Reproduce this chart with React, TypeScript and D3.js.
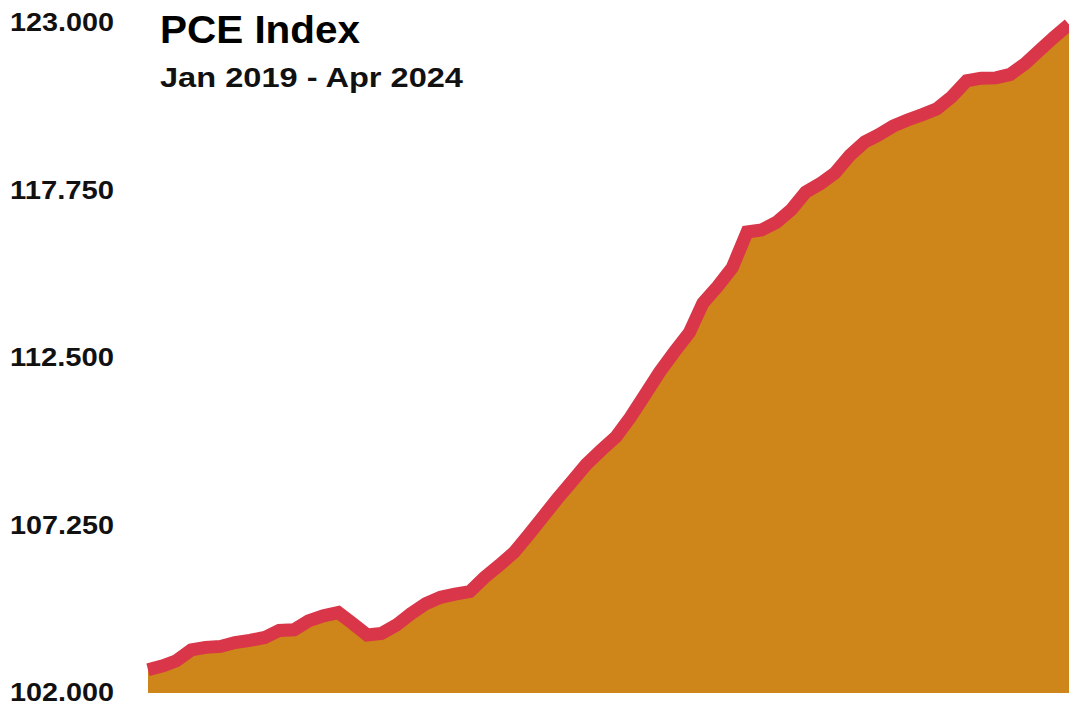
import React from "react";
import * as d3 from "d3";

const startMonth = "2019-01";
const pceValues: number[] = [
  102.73, 102.85, 103.01, 103.35, 103.43, 103.46, 103.58, 103.65, 103.74, 103.96,
  103.98, 104.26, 104.42, 104.52, 104.19, 103.82, 103.87, 104.13, 104.48, 104.80,
  105.0, 105.1, 105.18, 105.62, 106.0, 106.41, 106.92, 107.5, 108.07, 108.62,
  109.16, 109.61, 110.03, 110.64, 111.36, 112.06, 112.7, 113.3, 114.22, 114.75,
  115.33, 116.45, 116.51, 116.75, 117.15, 117.7, 117.97, 118.3, 118.85, 119.27,
  119.49, 119.77, 119.96, 120.13, 120.31, 120.69, 121.19, 121.27, 121.28, 121.39,
  121.73, 122.16, 122.56, 122.95,
];
const yTicks: number[] = [102, 107.25, 112.5, 117.75, 123];
const titleText = "PCE Index";
const subtitleText = "Jan 2019 - Apr 2024";

const W = 1069;
const H = 706;

export default function App() {
  const parse = d3.timeParse("%Y-%m");
  const start = parse(startMonth) as Date;
  const data = pceValues.map((v, i) => ({ date: d3.timeMonth.offset(start, i), value: v }));

  const x = d3
    .scaleTime()
    .domain(d3.extent(data, (d) => d.date) as [Date, Date])
    .range([148, 1069]);
  const y = d3.scaleLinear().domain([102, 123]).range([693, 23]);

  const area = d3
    .area<{ date: Date; value: number }>()
    .x((d) => x(d.date))
    .y0(y(102))
    .y1((d) => y(d.value));
  const line = d3
    .line<{ date: Date; value: number }>()
    .x((d) => x(d.date))
    .y((d) => y(d.value));

  const fmt = d3.format(".3f");
  const font = "'Liberation Sans', Arial, Helvetica, sans-serif";

  return (
    <div style={{ position: "fixed", left: 0, top: 0, width: W, height: H, background: "#fff" }}>
      <svg width={W} height={H} style={{ display: "block" }}>
        <path d={area(data) || ""} fill="#CE8519" />
        <path
          d={line(data) || ""}
          fill="none"
          stroke="#D93649"
          strokeWidth={13}
          strokeLinejoin="miter"
        />
        {yTicks.map((t) => (
          <text
            key={t}
            x={10}
            y={y(t) - 1}
            dy="0.35em"
            fontFamily={font}
            fontWeight="bold"
            fontSize={26}
            textLength={104}
            lengthAdjust="spacingAndGlyphs"
            fill="#111"
          >
            {fmt(t)}
          </text>
        ))}
        <text
          x={160}
          y={43}
          fontFamily={font}
          fontWeight="bold"
          fontSize={39}
          textLength={200}
          lengthAdjust="spacingAndGlyphs"
          fill="#000"
        >
          {titleText}
        </text>
        <text
          x={160}
          y={87}
          fontFamily={font}
          fontWeight="bold"
          fontSize={27}
          textLength={303}
          lengthAdjust="spacingAndGlyphs"
          fill="#111"
        >
          {subtitleText}
        </text>
      </svg>
    </div>
  );
}
